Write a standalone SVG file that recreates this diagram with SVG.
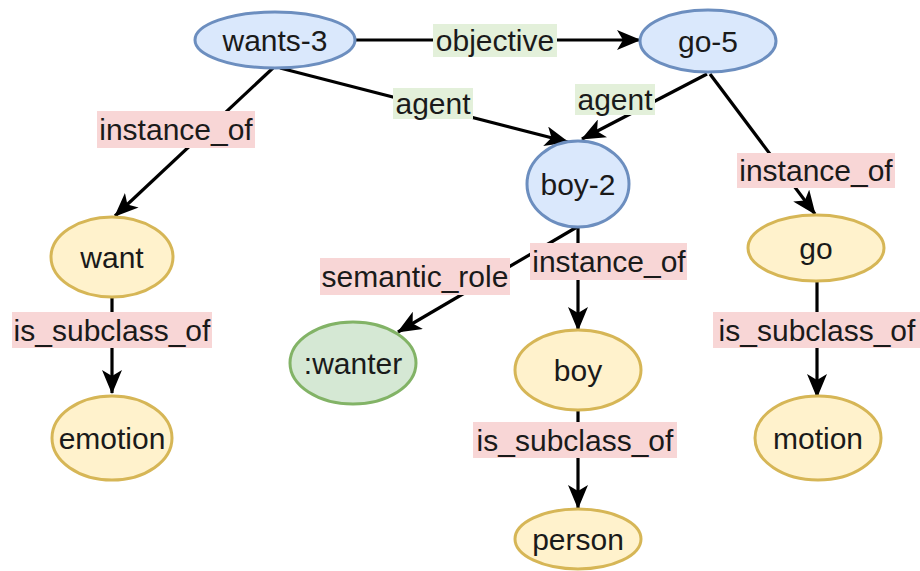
<svg xmlns="http://www.w3.org/2000/svg" width="920" height="571" viewBox="0 0 920 571">
<style>
text{font-family:"Liberation Sans",Arial,sans-serif;font-size:30px;fill:#1a1a1a;text-anchor:middle;dominant-baseline:central}
.blue{fill:#dae8fc;stroke:#6c8ebf;stroke-width:3}
.yel{fill:#fff2cc;stroke:#d6b656;stroke-width:3}
.grn{fill:#d5e8d4;stroke:#82b366;stroke-width:3}
.e{stroke:#000;stroke-width:3.2;fill:none;marker-end:url(#arr)}
.lp{fill:#f8d6d6}
.lg{fill:#e3f0da}
</style>
<defs>
<marker id="arr" markerUnits="userSpaceOnUse" markerWidth="24" markerHeight="20" refX="23" refY="10" orient="auto">
<path d="M0,0 L24,10 L0,20 L6,10 z" fill="#000"/>
</marker>
</defs>
<rect width="920" height="571" fill="#fff"/>
<g id="connectors">
<line class="e" x1="355" y1="40" x2="640" y2="40"/>
<line class="e" x1="280" y1="68" x2="568" y2="142"/>
<line class="e" x1="707" y1="74" x2="582" y2="139"/>
<line class="e" x1="710" y1="74" x2="815" y2="214"/>
<line class="e" x1="273" y1="68" x2="115" y2="216"/>
<line class="e" x1="112" y1="297" x2="112" y2="393"/>
<line class="e" x1="577" y1="227" x2="398" y2="332"/>
<line class="e" x1="578" y1="227" x2="578" y2="330"/>
<line class="e" x1="578" y1="410" x2="578" y2="508"/>
<line class="e" x1="817" y1="281" x2="817" y2="397"/>
<g id="lbl-objective"><rect class="lg" x="433" y="24" width="124" height="33"/><text x="495" y="40">objective</text></g>
<g id="lbl-agent1"><rect class="lg" x="393" y="88" width="80" height="31"/><text x="433" y="103">agent</text></g>
<g id="lbl-agent2"><rect class="lg" x="575" y="84" width="80" height="31"/><text x="615" y="99">agent</text></g>
<g id="lbl-inst1"><rect class="lp" x="97" y="111" width="158" height="37"/><text x="176" y="129">instance_of</text></g>
<g id="lbl-inst2"><rect class="lp" x="737" y="153" width="158" height="35"/><text x="816" y="170">instance_of</text></g>
<g id="lbl-sub1"><rect class="lp" x="12" y="312" width="200" height="36"/><text x="112" y="330">is_subclass_of</text></g>
<g id="lbl-sem"><rect class="lp" x="320" y="258" width="190" height="37"/><text x="415" y="276">semantic_role</text></g>
<g id="lbl-inst3"><rect class="lp" x="530" y="243" width="157" height="37"/><text x="609" y="261">instance_of</text></g>
<g id="lbl-sub2"><rect class="lp" x="473" y="422" width="204" height="36"/><text x="575" y="440">is_subclass_of</text></g>
<g id="lbl-sub3"><rect class="lp" x="713" y="312" width="207" height="36"/><text x="817" y="330">is_subclass_of</text></g>
</g>
<g id="wants-3"><ellipse class="blue" cx="275" cy="40" rx="80" ry="28"/><text x="275" y="40">wants-3</text></g>
<g id="go-5"><ellipse class="blue" cx="708" cy="41" rx="68" ry="31"/><text x="708" y="41">go-5</text></g>
<g id="boy-2"><ellipse class="blue" cx="578" cy="184" rx="51" ry="43"/><text x="578" y="184">boy-2</text></g>
<g id="want"><ellipse class="yel" cx="112" cy="257" rx="61" ry="40"/><text x="112" y="257">want</text></g>
<g id="emotion"><ellipse class="yel" cx="112" cy="438" rx="60" ry="42"/><text x="112" y="438">emotion</text></g>
<g id="wanter"><ellipse class="grn" cx="353" cy="363" rx="63" ry="41"/><text x="353" y="363">:wanter</text></g>
<g id="boy"><ellipse class="yel" cx="578" cy="370" rx="63" ry="40"/><text x="578" y="370">boy</text></g>
<g id="person"><ellipse class="yel" cx="578" cy="539" rx="63" ry="30"/><text x="578" y="539">person</text></g>
<g id="go"><ellipse class="yel" cx="816" cy="248" rx="68" ry="33"/><text x="816" y="248">go</text></g>
<g id="motion"><ellipse class="yel" cx="818" cy="438" rx="63" ry="42"/><text x="818" y="438">motion</text></g>
</svg>
